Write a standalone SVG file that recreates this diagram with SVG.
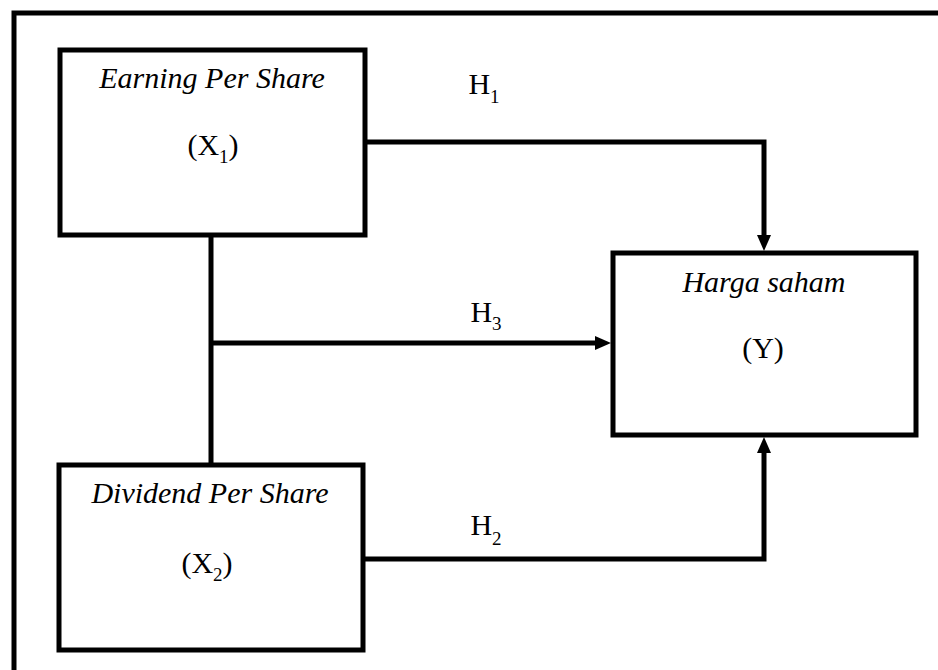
<svg xmlns="http://www.w3.org/2000/svg" width="938" height="670" viewBox="0 0 938 670">
<defs>
<style>
.box{fill:#fff;stroke:#000;stroke-width:5}
.ln{fill:none;stroke:#000;stroke-width:5}
.t{font-family:"Liberation Serif","Times New Roman",serif;fill:#000;text-anchor:middle}
.it{font-style:italic;font-size:30px}
.v{font-size:30px}
.sub{font-size:19px}
</style>
<marker id="ah" markerUnits="userSpaceOnUse" markerWidth="16" markerHeight="16" refX="0" refY="8" orient="auto">
<path d="M0,1 L16,8 L0,15 z" fill="#000"/>
</marker>
</defs>
<rect width="938" height="670" fill="#fff"/>
<path class="ln" d="M14,670 V13 H938"/>
<g id="connectors">
<path class="ln" d="M365,142 H764 V235" marker-end="url(#ah)"/>
<path class="ln" d="M211,235 V465"/>
<path class="ln" d="M211,343 H595" marker-end="url(#ah)"/>
<path class="ln" d="M363,559 H764 V453" marker-end="url(#ah)"/>
<text class="t v" x="484" y="94">H<tspan class="sub" dy="9">1</tspan></text>
<text class="t v" x="486" y="322">H<tspan class="sub" dy="8">3</tspan></text>
<text class="t v" x="486" y="535">H<tspan class="sub" dy="10">2</tspan></text>
</g>
<g id="eps">
<rect class="box" x="60" y="50" width="305" height="185"/>
<text class="t it" x="212" y="88">Earning Per Share</text>
<text class="t v" x="213" y="155">(X<tspan class="sub" dy="8">1</tspan><tspan dy="-8">)</tspan></text>
</g>
<g id="dps">
<rect class="box" x="59" y="465" width="304" height="185"/>
<text class="t it" x="210" y="503">Dividend Per Share</text>
<text class="t v" x="207" y="573">(X<tspan class="sub" dy="8">2</tspan><tspan dy="-8">)</tspan></text>
</g>
<g id="harga">
<rect class="box" x="613" y="253" width="303" height="182"/>
<text class="t it" x="764" y="292">Harga saham</text>
<text class="t v" x="763" y="358">(Y)</text>
</g>
</svg>
